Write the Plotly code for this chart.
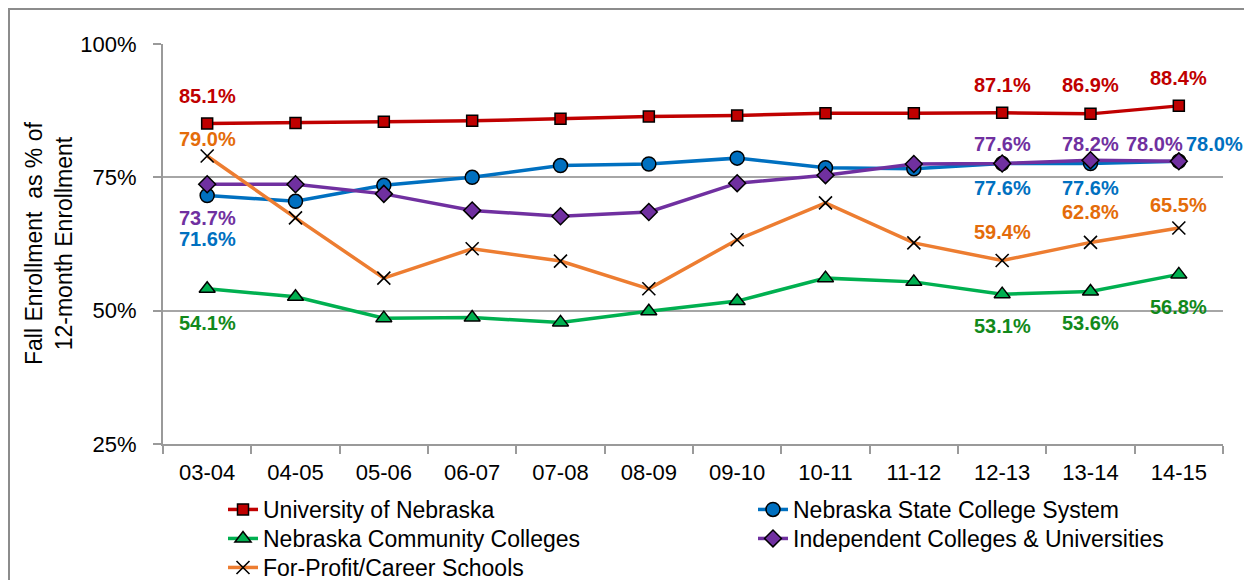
import plotly.graph_objects as go

# ---- data ----
years = ['03-04', '04-05', '05-06', '06-07', '07-08', '08-09',
         '09-10', '10-11', '11-12', '12-13', '13-14', '14-15']
unl = [85.1, 85.2, 85.4, 85.6, 86.0, 86.4, 86.6, 87.0, 87.0, 87.1, 86.9, 88.4]
nscs = [71.6, 70.5, 73.5, 75.0, 77.2, 77.5, 78.6, 76.8, 76.6, 77.6, 77.6, 78.0]
ncc = [54.1, 52.6, 48.6, 48.7, 47.8, 49.9, 51.8, 56.1, 55.4, 53.1, 53.6, 56.8]
icu = [73.7, 73.7, 71.9, 68.8, 67.7, 68.5, 73.9, 75.4, 77.5, 77.6, 78.2, 78.0]
fp = [79.0, 67.4, 56.1, 61.6, 59.3, 54.1, 63.3, 70.2, 62.7, 59.4, 62.8, 65.5]

names = ['University of Nebraska', 'Nebraska State College System',
         'Nebraska Community Colleges', 'Independent Colleges & Universities',
         'For-Profit/Career Schools']
y_ticks = [25, 50, 75, 100]
y_tick_text = [f'{v}%' for v in y_ticks]
y_title = 'Fall Enrollment  as % of<br>12-month Enrollment'

# ---- styles ----
FONT = 'Liberation Sans, Arial, sans-serif'
styles = {
    'unl': dict(line='#C00000', label='#C00000', symbol='square', size=11, mcolor='#C00000'),
    'nscs': dict(line='#0070C0', label='#0070C0', symbol='circle', size=14, mcolor='#0070C0'),
    'ncc': dict(line='#00B050', label='#12891B', symbol='triangle-up', size=14, mcolor='#00B050'),
    'icu': dict(line='#7030A0', label='#7030A0', symbol='diamond', size=13, mcolor='#7030A0'),
    'fp': dict(line='#ED7D31', label='#E46C0A', symbol='x-thin-open', size=13, mcolor='#000000'),
}
series = [('unl', unl), ('nscs', nscs), ('ncc', ncc), ('icu', icu), ('fp', fp)]

# label placement: (series key, category index, x shift px, y shift px)
label_pos = [
    ('unl', 0, 0, 27), ('unl', 9, 0, 28), ('unl', 10, 0, 29), ('unl', 11, 0, 28),
    ('fp', 0, 0, 17), ('fp', 9, 0, 29), ('fp', 10, 0, 30), ('fp', 11, 0, 23),
    ('icu', 0, 0, -34), ('icu', 9, 0, 19), ('icu', 10, 0, 16), ('icu', 11, -24, 17),
    ('nscs', 0, 0, -44), ('nscs', 9, 0, -25), ('nscs', 10, 0, -25), ('nscs', 11, 36, 17),
    ('ncc', 0, 0, -34), ('ncc', 9, 0, -32), ('ncc', 10, 0, -32), ('ncc', 11, 0, -33),
]
# legend slot per series: (left x px of legend, top y px of legend) in window pixels
legend_slots = {'unl': (223, 488), 'nscs': (753, 488), 'ncc': (223, 517),
                'icu': (753, 517), 'fp': (223, 546)}

# page body adds an 8px offset; compensate so the plot lands where the reference has it
OFF = 8
W, H = 1252 - OFF, 580 - OFF
PL, PT, PR, PB = 163, 44, 1223, 444          # plot area in window pixels
ML, MT = PL - OFF, PT - OFF
MR, MB = W - (PR - OFF), H - (PB - OFF)
PW, PH = PR - PL, PB - PT


def px_x(p):
    return (p - PL) / PW


def px_y(p):
    return (PB - p) / PH


fig = go.Figure()
data_by_key = dict(series)
legend_layout = {}
for n, ((key, vals), name) in enumerate(zip(series, names)):
    s = styles[key]
    if key == 'fp':
        marker = dict(symbol=s['symbol'], size=s['size'], color='#000000',
                      line=dict(color='#000000', width=1.6))
    else:
        marker = dict(symbol=s['symbol'], size=s['size'], color=s['mcolor'],
                      line=dict(color='#000000', width=1.5))
    lg = 'legend' if n == 0 else f'legend{n + 1}'
    fig.add_trace(go.Scatter(x=years, y=vals, name=name, mode='lines+markers',
                             line=dict(color=s['line'], width=3.5),
                             marker=marker, legend=lg))
    lx, ly = legend_slots[key]
    legend_layout[lg] = dict(orientation='h', x=px_x(lx), xanchor='left',
                             y=px_y(ly), yanchor='top',
                             font=dict(family=FONT, size=23, color='#000000'),
                             bgcolor='rgba(0,0,0,0)')

for key, i, dx, dy in label_pos:
    v = data_by_key[key][i]
    fig.add_annotation(x=years[i], y=v, xref='x', yref='y', text=f'<b>{v:.1f}%</b>',
                       showarrow=False, xshift=dx, yshift=dy,
                       font=dict(family=FONT, size=20, color=styles[key]['label']))

# y-axis title
fig.add_annotation(x=px_x(49), y=0.5, xref='paper', yref='paper',
                   xanchor='center', yanchor='middle',
                   text=y_title, textangle=-90, showarrow=False,
                   font=dict(family=FONT, size=23, color='#000000'))

# outer chart border (right/bottom edges fall outside the picture, as in the reference)
fig.add_shape(type='rect', xref='paper', yref='paper',
              x0=px_x(9), x1=px_x(1262), y0=px_y(595), y1=px_y(9),
              line=dict(color='#8C8C8C', width=2), fillcolor='rgba(0,0,0,0)')

fig.update_layout(
    width=W, height=H,
    margin=dict(l=ML, r=MR, t=MT, b=MB, autoexpand=False),
    paper_bgcolor='white', plot_bgcolor='white',
    font=dict(family=FONT, size=22, color='#000000'),
    showlegend=True,
    **legend_layout,
)
fig.update_xaxes(type='category', range=[-0.5, len(years) - 0.5],
                 showline=True, linecolor='#9A9A9A', linewidth=2,
                 ticks='outside', tickson='boundaries', ticklen=8,
                 tickcolor='#9A9A9A', tickwidth=2, showgrid=False,
                 tickfont=dict(family=FONT, size=22), ticklabelstandoff=8)
fig.update_yaxes(range=[25, 100], tickvals=y_ticks, ticktext=y_tick_text,
                 showline=True, linecolor='#9A9A9A', linewidth=2,
                 ticks='outside', ticklen=8, tickcolor='#9A9A9A', tickwidth=2,
                 showgrid=True, gridcolor='#A6A6A6', gridwidth=2,
                 zeroline=False, tickfont=dict(family=FONT, size=22),
                 ticklabelstandoff=12)

fig.write_html('out.html')
